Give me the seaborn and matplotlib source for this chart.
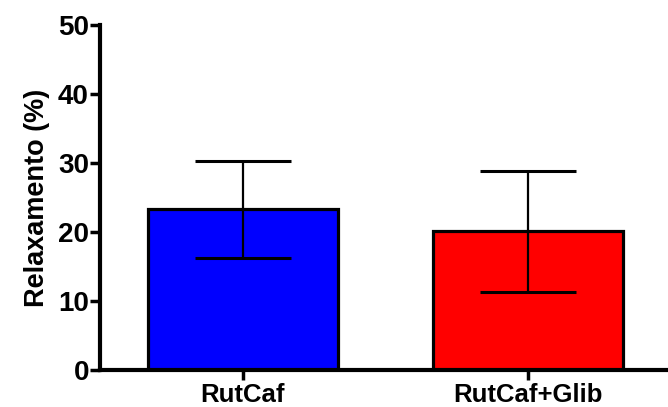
import matplotlib
matplotlib.use("Agg")
import matplotlib.pyplot as plt
import seaborn as sns
import pandas as pd

groups = ["RutCaf", "RutCaf+Glib"]
relax_mean = [23.3, 20.1]
relax_sem = [7.05, 8.75]
bar_colors = ["#0000ff", "#ff0000"]
y_ticks = [0, 10, 20, 30, 40, 50]

sns.set_style("white")
plt.rcParams["font.family"] = ["Liberation Sans", "DejaVu Sans"]
plt.rcParams["font.weight"] = "bold"
plt.rcParams["text.color"] = "black"
plt.rcParams["axes.labelcolor"] = "black"
plt.rcParams["xtick.color"] = "black"
plt.rcParams["ytick.color"] = "black"

df = pd.DataFrame({"group": groups, "relax": relax_mean})

fig = plt.figure(figsize=(6.68, 4.07), dpi=100)
ax = fig.add_axes([0.1497, 0.0909, 0.8503, 0.8477])

sns.barplot(data=df, x="group", y="relax", hue="group", palette=bar_colors,
            order=groups, hue_order=groups, width=0.665, errorbar=None,
            saturation=1, edgecolor="black", linewidth=2.3, legend=False,
            ax=ax)

ax.errorbar(range(len(groups)), relax_mean, yerr=relax_sem, fmt="none",
            ecolor="black", elinewidth=1.6, capsize=34.5, capthick=2.2,
            zorder=5)

ax.set_xlim(-0.5, 1.49)
ax.set_ylim(0, 50)
ax.set_yticks(y_ticks)
ax.set_xlabel("")
ax.set_ylabel("Relaxamento (%)", fontsize=19.5, fontweight="bold",
              color="black", labelpad=6)

for side in ["top", "right"]:
    ax.spines[side].set_visible(False)
for side in ["left", "bottom"]:
    ax.spines[side].set_linewidth(3)
    ax.spines[side].set_color("black")

ax.tick_params(axis="y", direction="out", length=7, width=2.5, labelsize=20,
               pad=1, left=True, colors="black")
ax.tick_params(axis="x", direction="out", length=7, width=2.5, labelsize=18.5,
               pad=2, bottom=True, colors="black")
for lab in ax.get_xticklabels() + ax.get_yticklabels():
    lab.set_fontweight("bold")

fig.savefig("out.png", dpi=100)
